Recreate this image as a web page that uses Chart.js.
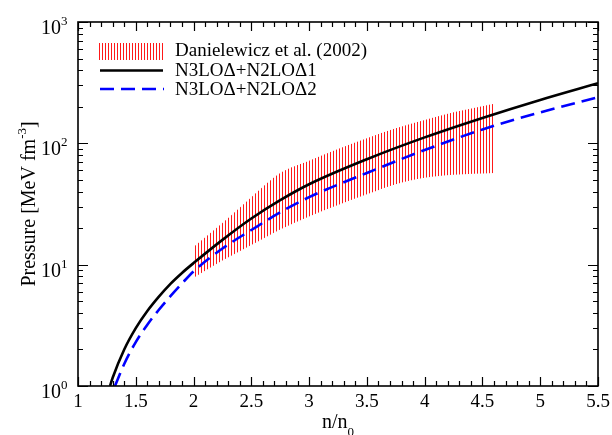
<!DOCTYPE html>
<html><head><meta charset="utf-8">
<script src="https://cdn.jsdelivr.net/npm/chart.js@4.4.0/dist/chart.umd.min.js"></script>
<style>html,body{margin:0;padding:0;background:#fff}</style>
</head><body>
<canvas id="c" width="612" height="435"></canvas>
<script>
// ---- data ----
const seriesNames = ['Danielewicz et al. (2002)', 'N3LO\u0394+N2LO\u03941', 'N3LO\u0394+N2LO\u03942'];

const curve1N = [1.277, 1.3, 1.4, 1.5, 1.6, 1.7, 1.8, 1.9, 2.0, 2.25, 2.5, 2.75, 3.0, 3.5, 4.0, 4.5, 5.0, 5.5];
const curve1P = [1.0, 1.17, 2.0, 3.0, 4.15, 5.45, 6.95, 8.55, 10.3, 16, 24, 34, 46, 74, 112, 162, 228, 313];

const curve2N = [1.32, 1.4, 1.5, 1.6, 1.7, 1.8, 1.9, 2.0, 2.25, 2.5, 2.75, 3.0, 3.5, 4.0, 4.5, 5.0, 5.5];
const curve2P = [1.0, 1.52, 2.3, 3.2, 4.25, 5.5, 7.0, 8.8, 13.6, 19.3, 27, 36, 57, 88, 130, 180, 240];

const bandN     = [2.0, 2.25, 2.5, 2.75, 3.0, 3.25, 3.5, 3.75, 4.0, 4.25, 4.6];
const bandUpper = [14, 22, 36, 57, 72, 90, 110, 133, 156, 180, 212];
const bandLower = [7.8, 10.8, 14.5, 19.5, 25, 31, 38, 46, 52, 55, 57];

const xTickValues = [1, 1.5, 2, 2.5, 3, 3.5, 4, 4.5, 5, 5.5];
const xTickLabels = ['1', '1.5', '2', '2.5', '3', '3.5', '4', '4.5', '5', '5.5'];
const yTickExponents = [0, 1, 2, 3];

// ---- helpers ----
const pts = (xs, ys) => xs.map((v, i) => ({x: v, y: ys[i]}));
const SERIF = '"Liberation Serif", "Times New Roman", serif';

const pc = document.createElement('canvas');
pc.width = 3; pc.height = 4;
const pctx = pc.getContext('2d');
pctx.fillStyle = 'rgba(255,0,0,0.9)';
pctx.fillRect(0, 0, 1, 4);
const ctxMain = document.getElementById('c').getContext('2d');
const hatch = ctxMain.createPattern(pc, 'repeat');

const framePlugin = {
  id: 'frame',
  afterDraw(chart) {
    const {ctx, chartArea: a, scales: {x, y}} = chart;
    ctx.save();
    ctx.strokeStyle = '#000';
    ctx.fillStyle = '#000';
    // ticks
    ctx.lineWidth = 1.2;
    ctx.beginPath();
    for (let i = 0; i <= 45; i++) {
      const v = 1 + i * 0.1;
      const px = Math.round(x.getPixelForValue(v)) + 0.5;
      const len = (i % 5 === 0) ? 9 : 5;
      ctx.moveTo(px, a.bottom); ctx.lineTo(px, a.bottom - len);
      ctx.moveTo(px, a.top); ctx.lineTo(px, a.top + len);
    }
    for (let d = 0; d <= 3; d++) {
      for (let k = 1; k <= 9; k++) {
        if (d === 3 && k > 1) break;
        const v = k * Math.pow(10, d);
        const py = Math.round(y.getPixelForValue(v)) + 0.5;
        const len = (k === 1) ? 10 : 5;
        ctx.moveTo(a.left, py); ctx.lineTo(a.left + len, py);
        ctx.moveTo(a.right, py); ctx.lineTo(a.right - len, py);
      }
    }
    ctx.stroke();
    // frame
    ctx.lineWidth = 1.6;
    ctx.strokeRect(a.left, a.top, a.right - a.left, a.bottom - a.top);

    // x tick labels
    ctx.font = '19px ' + SERIF;
    ctx.textAlign = 'center';
    ctx.textBaseline = 'alphabetic';
    xTickValues.forEach((v, i) => {
      ctx.fillText(xTickLabels[i], x.getPixelForValue(v), 407);
    });
    // y tick labels 10^n
    yTickExponents.forEach(e => {
      const py = y.getPixelForValue(Math.pow(10, e));
      ctx.font = '20px ' + SERIF;
      ctx.textAlign = 'right';
      ctx.fillText('10', 61, py + 12);
      ctx.font = '13px ' + SERIF;
      ctx.textAlign = 'left';
      ctx.fillText(String(e), 61, py + 3);
    });
    // x title
    ctx.font = '20px ' + SERIF;
    ctx.textAlign = 'left';
    const t1 = 'n/n';
    const w1 = ctx.measureText(t1).width;
    const cx = (a.left + a.right) / 2;
    ctx.font = '13px ' + SERIF;
    const w2 = ctx.measureText('0').width;
    const sx = cx - (w1 + w2) / 2;
    ctx.font = '20px ' + SERIF;
    ctx.fillText(t1, sx, 428);
    ctx.font = '13px ' + SERIF;
    ctx.fillText('0', sx + w1, 436);

    // y title (rotated)
    ctx.save();
    ctx.translate(35, (a.top + a.bottom) / 2);
    ctx.rotate(-Math.PI / 2);
    const p1 = 'Pressure [MeV fm', p2 = '-3', p3 = ']';
    ctx.font = '20px ' + SERIF;
    const a1 = ctx.measureText(p1).width, a3 = ctx.measureText(p3).width;
    ctx.font = '13px ' + SERIF;
    const a2 = ctx.measureText(p2).width;
    let tx = -(a1 + a2 + a3) / 2;
    ctx.font = '20px ' + SERIF;
    ctx.fillText(p1, tx, 0);
    ctx.font = '13px ' + SERIF;
    ctx.fillText(p2, tx + a1, -9);
    ctx.font = '20px ' + SERIF;
    ctx.fillText(p3, tx + a1 + a2, 0);
    ctx.restore();

    // legend
    ctx.fillStyle = hatch;
    ctx.fillRect(98, 43, 66, 17);
    ctx.lineWidth = 2.5;
    ctx.strokeStyle = '#000';
    ctx.beginPath(); ctx.moveTo(100, 70.5); ctx.lineTo(163, 70.5); ctx.stroke();
    ctx.strokeStyle = '#0000ff';
    ctx.setLineDash([14, 7]);
    ctx.beginPath(); ctx.moveTo(100, 89); ctx.lineTo(164, 89); ctx.stroke();
    ctx.setLineDash([]);
    ctx.fillStyle = '#000';
    ctx.font = '19px ' + SERIF;
    ctx.textAlign = 'left';
    ctx.fillText(seriesNames[0], 175, 56);
    ctx.fillText(seriesNames[1], 175, 76);
    ctx.fillText(seriesNames[2], 175, 95);
    ctx.restore();
  }
};

new Chart(ctxMain, {
  type: 'line',
  data: {
    datasets: [
      {label: seriesNames[1], data: pts(curve1N, curve1P), borderColor: '#000', borderWidth: 2.6,
       pointRadius: 0, fill: false, cubicInterpolationMode: 'monotone'},
      {label: seriesNames[2], data: pts(curve2N, curve2P), borderColor: '#0000ff', borderWidth: 2.6,
       borderDash: [14, 7], pointRadius: 0, fill: false, cubicInterpolationMode: 'monotone'},
      {label: seriesNames[0] + ' upper', data: pts(bandN, bandUpper), borderWidth: 0, borderColor: 'rgba(0,0,0,0)',
       backgroundColor: hatch, pointRadius: 0, fill: '+1', cubicInterpolationMode: 'monotone'},
      {label: seriesNames[0] + ' lower', data: pts(bandN, bandLower), borderWidth: 0, borderColor: 'rgba(0,0,0,0)',
       pointRadius: 0, fill: false, cubicInterpolationMode: 'monotone'}
    ]
  },
  options: {
    responsive: false,
    animation: false,
    devicePixelRatio: 1,
    layout: {padding: {left: 78, right: 14, top: 22, bottom: 49}},
    plugins: {legend: {display: false}, tooltip: {enabled: false}},
    scales: {
      x: {type: 'linear', min: 1, max: 5.5, display: false},
      y: {type: 'logarithmic', min: 1, max: 1000, display: false}
    }
  },
  plugins: [framePlugin]
});
</script>
</body></html>
